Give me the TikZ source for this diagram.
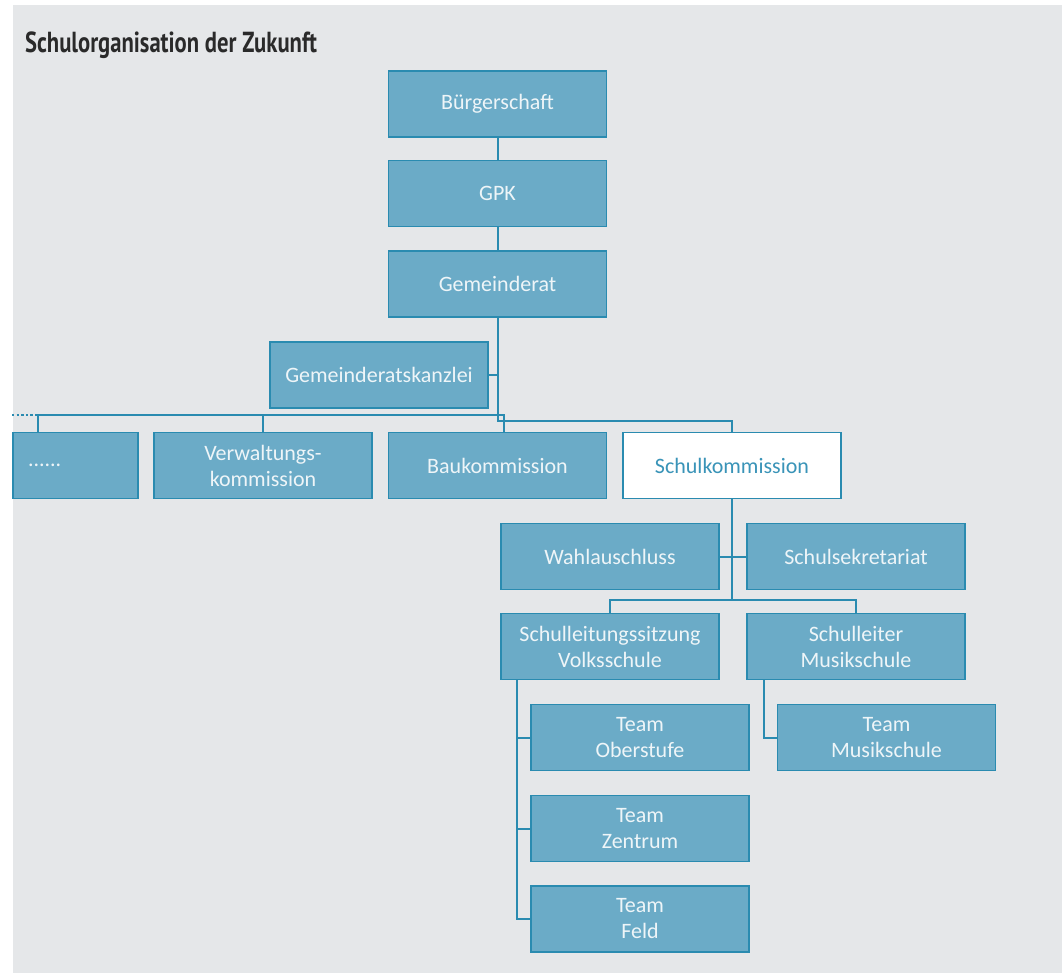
\documentclass[tikz,border=0pt]{standalone}
\usepackage{fontspec}
\setmainfont{Carlito}
\newfontfamily\titlefont{PT Sans}
\usetikzlibrary{positioning}

\definecolor{bggray}{HTML}{E5E7E9}
\definecolor{boxblue}{HTML}{6BABC7}
\definecolor{lineblue}{HTML}{2A8BB0}
\definecolor{boxtext}{HTML}{EEF5F8}
\definecolor{schultext}{HTML}{3A94B8}
\definecolor{titlegray}{HTML}{2A2A2A}

\begin{document}
\begin{tikzpicture} [
  x = 1pt,
  y = -1pt,
  box/.style = {
    draw = lineblue,
    fill = boxblue,
    line width = 1.8pt,
    minimum width = 218pt,
    minimum height = 66pt,
    inner sep = 0pt,
    align = center,
    text = boxtext,
    font = \fontsize{22}{26}\selectfont,
  },
  link/.style = {
    draw = lineblue,
    line width = 2pt,
  },
]
\useasboundingbox (0, 0) rectangle (1062, 973);
\fill [bggray] (13, 5) rectangle (1062, 973);

\node [anchor = base west, text = titlegray, inner sep = 0pt] (title) at (25, 53)
  {\scalebox{0.78}[1]{\titlefont\bfseries\fontsize{29}{30}\selectfont Schulorganisation der Zukunft}};

% top of the chain
\node [box] (buerger) at (497.5, 104) {Bürgerschaft};
\node [box] (gpk) at (497.5, 193.5) {GPK};
\node [box] (gemeinderat) at (497.5, 284) {Gemeinderat};
\node [box] (kanzlei) at (379, 375) {Gemeinderatskanzlei};

% commissions
\node [box, minimum width = 125pt, text width = 95pt, align = left] (weitere) at (75.5, 465.5) {......};
\node [box] (verwaltung) at (263, 465.5) {Verwaltungs-\\kommission};
\node [box] (bau) at (497.5, 465.5) {Baukommission};
\node [box, fill = white, text = schultext] (schulkom) at (732, 465.5) {Schulkommission};

% school
\node [box] (wahl) at (610, 556.5) {Wahlauschluss};
\node [box] (sekretariat) at (856, 556.5) {Schulsekretariat};
\node [box] (volksleitung) at (610, 646.5) {Schulleitungssitzung\\Volksschule};
\node [box] (musikleitung) at (856, 646.5) {Schulleiter\\Musikschule};
\node [box] (teamober) at (640, 737.5) {Team\\Oberstufe};
\node [box] (teamzentrum) at (640, 828.5) {Team\\Zentrum};
\node [box] (teamfeld) at (640, 919) {Team\\Feld};
\node [box] (teammusik) at (886.5, 737.5) {Team\\Musikschule};

\draw [link] (buerger) -- (gpk);
\draw [link] (gpk) -- (gemeinderat);
\draw [link] (gemeinderat.south) -- ++(0, 103) coordinate (split) -| (schulkom.north);
\draw [link] (kanzlei.east) -- (kanzlei.east -| gemeinderat.south);

\coordinate (busleft) at (38, 415);
\coordinate (busend) at (12, 415);
\coordinate (baudrop) at (504, 415);
\draw [link] (weitere.north -| busleft) -- (busleft) -- (baudrop) -- (baudrop |- bau.north);
\draw [link] (verwaltung.north) -- (verwaltung.north |- busleft);
\draw [lineblue, line width = 2.4pt, dash pattern = on 2.4pt off 2.2pt] (busend) -- (busleft);

\draw [link] (schulkom.south) -- ++(0, 101) coordinate (split2);
\draw [link] (volksleitung.north) |- (split2) -| (musikleitung.north);
\draw [link] (wahl.east) -- (sekretariat.west);

\coordinate (volks) at ([xshift = -93pt] volksleitung.south);
\draw [link] (volks) |- (teamfeld.west);
\draw [link] (volks |- teamober.west) -- (teamober.west);
\draw [link] (volks |- teamzentrum.west) -- (teamzentrum.west);

\coordinate (musik) at ([xshift = -92pt] musikleitung.south);
\draw [link] (musik) |- (teammusik.west);
\end{tikzpicture}
\end{document}
